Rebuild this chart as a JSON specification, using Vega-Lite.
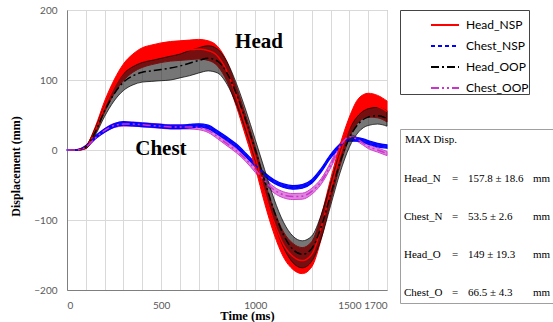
{
  "$schema": "https://vega.github.io/schema/vega-lite/v6.json",
  "width": 320,
  "height": 280,
  "autosize": {"type": "none"},
  "padding": {"left": 67, "top": 10, "right": 166, "bottom": 32},
  "background": "white",
  "config": {
    "view": {"stroke": "#a6a6a6", "strokeWidth": 1},
    "axis": {"domainColor": "#7f7f7f", "gridColor": "#d9d9d9", "gridWidth": 1, "tickSize": 0, "labelColor": "#595959", "labelFont": "Liberation Sans Narrow, Lato", "titleFont": "Liberation Serif", "titleFontWeight": "bold", "titleColor": "#000000"}
  },
  "datasets": {
    "curves": [
      {"s":"Head_NSP","t":0,"m":0,"lo":0,"hi":0},
      {"s":"Head_NSP","t":50,"m":0,"lo":-0.5,"hi":0.5},
      {"s":"Head_NSP","t":100,"m":4,"lo":2,"hi":6},
      {"s":"Head_NSP","t":150,"m":28,"lo":23,"hi":33},
      {"s":"Head_NSP","t":200,"m":62,"lo":54,"hi":70},
      {"s":"Head_NSP","t":250,"m":90,"lo":80,"hi":100},
      {"s":"Head_NSP","t":300,"m":111,"lo":99,"hi":123},
      {"s":"Head_NSP","t":350,"m":124,"lo":111,"hi":137},
      {"s":"Head_NSP","t":400,"m":132,"lo":118,"hi":146},
      {"s":"Head_NSP","t":450,"m":136,"lo":122,"hi":150},
      {"s":"Head_NSP","t":500,"m":139,"lo":125,"hi":153},
      {"s":"Head_NSP","t":550,"m":141,"lo":127,"hi":155},
      {"s":"Head_NSP","t":600,"m":142,"lo":128,"hi":156},
      {"s":"Head_NSP","t":650,"m":143,"lo":129,"hi":157},
      {"s":"Head_NSP","t":700,"m":144,"lo":130,"hi":158},
      {"s":"Head_NSP","t":750,"m":142,"lo":128,"hi":156},
      {"s":"Head_NSP","t":800,"m":134,"lo":120,"hi":148},
      {"s":"Head_NSP","t":850,"m":112,"lo":98,"hi":126},
      {"s":"Head_NSP","t":900,"m":76,"lo":62,"hi":90},
      {"s":"Head_NSP","t":950,"m":34,"lo":19,"hi":49},
      {"s":"Head_NSP","t":1000,"m":-10,"lo":-25,"hi":5},
      {"s":"Head_NSP","t":1050,"m":-60,"lo":-76,"hi":-44},
      {"s":"Head_NSP","t":1100,"m":-103,"lo":-120,"hi":-86},
      {"s":"Head_NSP","t":1150,"m":-135,"lo":-153,"hi":-117},
      {"s":"Head_NSP","t":1200,"m":-152,"lo":-170.6,"hi":-133.4},
      {"s":"Head_NSP","t":1250,"m":-158,"lo":-176.6,"hi":-139.4},
      {"s":"Head_NSP","t":1300,"m":-149,"lo":-167,"hi":-131},
      {"s":"Head_NSP","t":1350,"m":-111,"lo":-128,"hi":-94},
      {"s":"Head_NSP","t":1400,"m":-58,"lo":-74,"hi":-42},
      {"s":"Head_NSP","t":1450,"m":-8,"lo":-23,"hi":7},
      {"s":"Head_NSP","t":1500,"m":32,"lo":17,"hi":47},
      {"s":"Head_NSP","t":1550,"m":57,"lo":40,"hi":74},
      {"s":"Head_NSP","t":1600,"m":64,"lo":47,"hi":81},
      {"s":"Head_NSP","t":1650,"m":62,"lo":46,"hi":78},
      {"s":"Head_NSP","t":1700,"m":55,"lo":40,"hi":70},
      {"s":"Head_OOP","t":0,"m":0,"lo":0,"hi":0},
      {"s":"Head_OOP","t":50,"m":0,"lo":-0.5,"hi":0.5},
      {"s":"Head_OOP","t":100,"m":4,"lo":2,"hi":6},
      {"s":"Head_OOP","t":150,"m":26,"lo":21,"hi":31},
      {"s":"Head_OOP","t":200,"m":56,"lo":48,"hi":64},
      {"s":"Head_OOP","t":250,"m":80,"lo":70,"hi":90},
      {"s":"Head_OOP","t":300,"m":97,"lo":85,"hi":109},
      {"s":"Head_OOP","t":350,"m":106,"lo":93,"hi":119},
      {"s":"Head_OOP","t":400,"m":111,"lo":97,"hi":125},
      {"s":"Head_OOP","t":450,"m":113,"lo":98,"hi":128},
      {"s":"Head_OOP","t":500,"m":115,"lo":99,"hi":131},
      {"s":"Head_OOP","t":550,"m":117,"lo":100,"hi":134},
      {"s":"Head_OOP","t":600,"m":120,"lo":103,"hi":137},
      {"s":"Head_OOP","t":650,"m":124,"lo":106,"hi":142},
      {"s":"Head_OOP","t":700,"m":128,"lo":110,"hi":146},
      {"s":"Head_OOP","t":750,"m":131,"lo":113,"hi":149},
      {"s":"Head_OOP","t":800,"m":127,"lo":110,"hi":144},
      {"s":"Head_OOP","t":850,"m":110,"lo":94,"hi":126},
      {"s":"Head_OOP","t":900,"m":80,"lo":65,"hi":95},
      {"s":"Head_OOP","t":950,"m":42,"lo":27,"hi":57},
      {"s":"Head_OOP","t":1000,"m":0,"lo":-15,"hi":15},
      {"s":"Head_OOP","t":1050,"m":-44,"lo":-60,"hi":-28},
      {"s":"Head_OOP","t":1100,"m":-87,"lo":-104,"hi":-70},
      {"s":"Head_OOP","t":1150,"m":-121,"lo":-139,"hi":-103},
      {"s":"Head_OOP","t":1200,"m":-142,"lo":-161,"hi":-123},
      {"s":"Head_OOP","t":1250,"m":-149,"lo":-168.3,"hi":-129.7},
      {"s":"Head_OOP","t":1300,"m":-141,"lo":-159,"hi":-123},
      {"s":"Head_OOP","t":1350,"m":-110,"lo":-127,"hi":-93},
      {"s":"Head_OOP","t":1400,"m":-64,"lo":-80,"hi":-48},
      {"s":"Head_OOP","t":1450,"m":-18,"lo":-33,"hi":-3},
      {"s":"Head_OOP","t":1500,"m":17,"lo":4,"hi":30},
      {"s":"Head_OOP","t":1550,"m":38,"lo":26,"hi":50},
      {"s":"Head_OOP","t":1600,"m":47,"lo":35,"hi":59},
      {"s":"Head_OOP","t":1650,"m":49,"lo":37,"hi":61},
      {"s":"Head_OOP","t":1700,"m":45,"lo":34,"hi":56},
      {"s":"Chest_NSP","t":0,"m":0,"lo":-0.3,"hi":0.3},
      {"s":"Chest_NSP","t":50,"m":0,"lo":-0.5,"hi":0.5},
      {"s":"Chest_NSP","t":100,"m":5,"lo":3.5,"hi":6.5},
      {"s":"Chest_NSP","t":150,"m":18,"lo":16,"hi":20},
      {"s":"Chest_NSP","t":200,"m":28,"lo":25.5,"hi":30.5},
      {"s":"Chest_NSP","t":250,"m":35,"lo":32.5,"hi":37.5},
      {"s":"Chest_NSP","t":300,"m":38,"lo":35.5,"hi":40.5},
      {"s":"Chest_NSP","t":350,"m":37,"lo":34.5,"hi":39.5},
      {"s":"Chest_NSP","t":400,"m":36,"lo":33.5,"hi":38.5},
      {"s":"Chest_NSP","t":450,"m":35,"lo":32.5,"hi":37.5},
      {"s":"Chest_NSP","t":500,"m":34,"lo":31.5,"hi":36.5},
      {"s":"Chest_NSP","t":550,"m":33,"lo":30.5,"hi":35.5},
      {"s":"Chest_NSP","t":600,"m":33,"lo":30.5,"hi":35.5},
      {"s":"Chest_NSP","t":650,"m":34,"lo":31.5,"hi":36.5},
      {"s":"Chest_NSP","t":700,"m":35,"lo":32.5,"hi":37.5},
      {"s":"Chest_NSP","t":750,"m":33,"lo":30.5,"hi":35.5},
      {"s":"Chest_NSP","t":800,"m":25,"lo":22.5,"hi":27.5},
      {"s":"Chest_NSP","t":850,"m":16,"lo":13.5,"hi":18.5},
      {"s":"Chest_NSP","t":900,"m":6,"lo":3.5,"hi":8.5},
      {"s":"Chest_NSP","t":950,"m":-7,"lo":-9.5,"hi":-4.5},
      {"s":"Chest_NSP","t":1000,"m":-21,"lo":-23.5,"hi":-18.5},
      {"s":"Chest_NSP","t":1050,"m":-35,"lo":-37.5,"hi":-32.5},
      {"s":"Chest_NSP","t":1100,"m":-45,"lo":-47.6,"hi":-42.4},
      {"s":"Chest_NSP","t":1150,"m":-51,"lo":-53.6,"hi":-48.4},
      {"s":"Chest_NSP","t":1200,"m":-53.5,"lo":-56.1,"hi":-50.9},
      {"s":"Chest_NSP","t":1250,"m":-52,"lo":-54.6,"hi":-49.4},
      {"s":"Chest_NSP","t":1300,"m":-45,"lo":-47.6,"hi":-42.4},
      {"s":"Chest_NSP","t":1350,"m":-29,"lo":-31.5,"hi":-26.5},
      {"s":"Chest_NSP","t":1400,"m":-9,"lo":-11.5,"hi":-6.5},
      {"s":"Chest_NSP","t":1450,"m":6,"lo":3.5,"hi":8.5},
      {"s":"Chest_NSP","t":1500,"m":15,"lo":12.5,"hi":17.5},
      {"s":"Chest_NSP","t":1550,"m":15,"lo":12.5,"hi":17.5},
      {"s":"Chest_NSP","t":1600,"m":11,"lo":8.5,"hi":13.5},
      {"s":"Chest_NSP","t":1650,"m":7,"lo":4.5,"hi":9.5},
      {"s":"Chest_NSP","t":1700,"m":5,"lo":2.5,"hi":7.5},
      {"s":"Chest_OOP","t":0,"m":0,"lo":-0.3,"hi":0.3},
      {"s":"Chest_OOP","t":50,"m":0,"lo":-0.5,"hi":0.5},
      {"s":"Chest_OOP","t":100,"m":4,"lo":2.5,"hi":5.5},
      {"s":"Chest_OOP","t":150,"m":17,"lo":15,"hi":19},
      {"s":"Chest_OOP","t":200,"m":28,"lo":25.5,"hi":30.5},
      {"s":"Chest_OOP","t":250,"m":35,"lo":32,"hi":38},
      {"s":"Chest_OOP","t":300,"m":37,"lo":34,"hi":40},
      {"s":"Chest_OOP","t":350,"m":37,"lo":34,"hi":40},
      {"s":"Chest_OOP","t":400,"m":36,"lo":33,"hi":39},
      {"s":"Chest_OOP","t":450,"m":35,"lo":32,"hi":38},
      {"s":"Chest_OOP","t":500,"m":34,"lo":31,"hi":37},
      {"s":"Chest_OOP","t":550,"m":33,"lo":30,"hi":36},
      {"s":"Chest_OOP","t":600,"m":33,"lo":30,"hi":36},
      {"s":"Chest_OOP","t":650,"m":33,"lo":30,"hi":36},
      {"s":"Chest_OOP","t":700,"m":32,"lo":29,"hi":35},
      {"s":"Chest_OOP","t":750,"m":28,"lo":25,"hi":31},
      {"s":"Chest_OOP","t":800,"m":19,"lo":16,"hi":22},
      {"s":"Chest_OOP","t":850,"m":9,"lo":6,"hi":12},
      {"s":"Chest_OOP","t":900,"m":-1,"lo":-4,"hi":2},
      {"s":"Chest_OOP","t":950,"m":-13,"lo":-16.5,"hi":-9.5},
      {"s":"Chest_OOP","t":1000,"m":-28,"lo":-32,"hi":-24},
      {"s":"Chest_OOP","t":1050,"m":-44,"lo":-48,"hi":-40},
      {"s":"Chest_OOP","t":1100,"m":-57,"lo":-61.3,"hi":-52.7},
      {"s":"Chest_OOP","t":1150,"m":-64,"lo":-68.3,"hi":-59.7},
      {"s":"Chest_OOP","t":1200,"m":-66.5,"lo":-70.8,"hi":-62.2},
      {"s":"Chest_OOP","t":1250,"m":-66,"lo":-70.3,"hi":-61.7},
      {"s":"Chest_OOP","t":1300,"m":-59,"lo":-63.3,"hi":-54.7},
      {"s":"Chest_OOP","t":1350,"m":-45,"lo":-49,"hi":-41},
      {"s":"Chest_OOP","t":1400,"m":-22,"lo":-26,"hi":-18},
      {"s":"Chest_OOP","t":1450,"m":5,"lo":1.5,"hi":8.5},
      {"s":"Chest_OOP","t":1500,"m":19,"lo":16,"hi":22},
      {"s":"Chest_OOP","t":1550,"m":14,"lo":11,"hi":17},
      {"s":"Chest_OOP","t":1600,"m":5,"lo":2,"hi":8},
      {"s":"Chest_OOP","t":1650,"m":0,"lo":-3,"hi":3},
      {"s":"Chest_OOP","t":1700,"m":-5,"lo":-8,"hi":-2}
    ],
    "maxdisp": [
      {"cell": "Head_N"}, {"cell": "=1"}, {"cell": "157.8 ± 18.6"}, {"cell": "mm1"},
      {"cell": "Chest_N"}, {"cell": "=2"}, {"cell": "53.5 ± 2.6"}, {"cell": "mm2"},
      {"cell": "Head_O"}, {"cell": "=3"}, {"cell": "149 ± 19.3"}, {"cell": "mm3"},
      {"cell": "Chest_O"}, {"cell": "=4"}, {"cell": "66.5 ± 4.3"}, {"cell": "mm4"}
    ]
  },
  "data": {"name": "curves"},
  "encoding": {
    "x": {"field": "t", "type": "quantitative", "scale": {"domain": [0, 1700], "nice": false},
      "axis": {"values": [0,100,200,300,400,500,600,700,800,900,1000,1100,1200,1300,1400,1500,1600,1700], "labelExpr": "indexof([0,500,1000,1500,1700], datum.value) >= 0 ? datum.label : ''", "format": "d", "labelOverlap": false, "labelPadding": 10, "labelFontSize": 10, "labelBaseline": "top", "title": "Time (ms)", "titleFontSize": 12.5, "titleX": 180, "titleY": 29, "titleBaseline": "alphabetic", "titleAnchor": "middle",
        "encode": {"labels": {"update": {"dx": {"signal": "datum.value == 0 ? -2 : (datum.value == 1700 ? -12 : -9)"}}}}}}
  },
  "layer": [
    {
      "transform": [{"filter": "datum.s == 'Chest_OOP'"}],
      "mark": {"type": "area", "interpolate": "monotone", "fill": "#dd77dd", "fillOpacity": 0.9, "stroke": "#cc44cc", "strokeWidth": 1},
      "encoding": {
        "y": {"field": "lo", "type": "quantitative", "scale": {"domain": [-200, 200], "nice": false},
          "axis": {"values": [-200,-150,-100,-50,0,50,100,150,200], "labelOverlap": false, "labelPadding": 10, "labelFontSize": 10, "title": "Displacement (mm)", "titleFontSize": 12, "titleX": -52, "titleY": 156, "titleAngle": -90, "titleBaseline": "middle", "titleAnchor": "middle"}},
        "y2": {"field": "hi"}
      }
    },
    {
      "transform": [{"filter": "datum.s == 'Chest_NSP'"}],
      "mark": {"type": "area", "interpolate": "monotone", "fill": "#1010ff", "stroke": "#0000ff", "strokeWidth": 1.2},
      "encoding": {
        "y": {"field": "lo", "type": "quantitative", "scale": {"domain": [-200, 200], "nice": false},
          "axis": {"values": [-200,-150,-100,-50,0,50,100,150,200], "labelOverlap": false, "labelPadding": 10, "labelFontSize": 10, "title": "Displacement (mm)", "titleFontSize": 12, "titleX": -52, "titleY": 156, "titleAngle": -90, "titleBaseline": "middle", "titleAnchor": "middle"}},
        "y2": {"field": "hi"}
      }
    },
    {
      "transform": [{"filter": "datum.s == 'Head_NSP'"}],
      "mark": {"type": "area", "interpolate": "monotone", "fill": "#ff0000", "stroke": "#ff0000", "strokeWidth": 1},
      "encoding": {
        "y": {"field": "lo", "type": "quantitative", "scale": {"domain": [-200, 200], "nice": false},
          "axis": {"values": [-200,-150,-100,-50,0,50,100,150,200], "labelOverlap": false, "labelPadding": 10, "labelFontSize": 10, "title": "Displacement (mm)", "titleFontSize": 12, "titleX": -52, "titleY": 156, "titleAngle": -90, "titleBaseline": "middle", "titleAnchor": "middle"}},
        "y2": {"field": "hi"}
      }
    },
    {
      "transform": [{"filter": "datum.s == 'Head_OOP'"}],
      "mark": {"type": "area", "interpolate": "monotone", "fill": "#1a1a1a", "fillOpacity": 0.6, "stroke": "#000000", "strokeOpacity": 0.7, "strokeWidth": 1},
      "encoding": {
        "y": {"field": "lo", "type": "quantitative", "scale": {"domain": [-200, 200], "nice": false},
          "axis": {"values": [-200,-150,-100,-50,0,50,100,150,200], "labelOverlap": false, "labelPadding": 10, "labelFontSize": 10, "title": "Displacement (mm)", "titleFontSize": 12, "titleX": -52, "titleY": 156, "titleAngle": -90, "titleBaseline": "middle", "titleAnchor": "middle"}},
        "y2": {"field": "hi"}
      }
    },
    {
      "mark": {"type": "line", "interpolate": "monotone", "strokeWidth": 1.5},
      "encoding": {
        "y": {"field": "m", "type": "quantitative", "scale": {"domain": [-200, 200], "nice": false},
          "axis": {"values": [-200,-150,-100,-50,0,50,100,150,200], "labelOverlap": false, "labelPadding": 10, "labelFontSize": 10, "title": "Displacement (mm)", "titleFontSize": 12, "titleX": -52, "titleY": 156, "titleAngle": -90, "titleBaseline": "middle", "titleAnchor": "middle"}},
        "color": {"field": "s", "type": "nominal",
          "scale": {"domain": ["Head_NSP", "Chest_NSP", "Head_OOP", "Chest_OOP"], "range": ["#ff0000", "#0000ff", "#000000", "#cc33cc"]},
          "legend": {"orient": "none", "legendX": 333, "legendY": 0, "title": null, "strokeColor": "#444444", "fillColor": "#ffffff", "padding": 0, "symbolType": "stroke", "symbolSize": 784, "symbolStrokeWidth": 2, "symbolOffset": 30, "labelOffset": 6, "labelFont": "Lato", "labelFontSize": 12, "labelColor": "#000000", "rowPadding": 0, "labelExpr": "datum.label + '             '"}},
        "strokeDash": {"field": "s", "type": "nominal",
          "scale": {"domain": ["Head_NSP", "Chest_NSP", "Head_OOP", "Chest_OOP"], "range": [[1, 0], [4, 3], [8, 3, 2, 3], [8, 3, 2, 3, 2, 3]]}}
      }
    },
    {
      "transform": [{"filter": "datum.s == 'Head_NSP' && datum.t == 0"}],
      "mark": {"type": "text", "text": "Head", "font": "Liberation Serif", "fontWeight": "bold", "fontSize": 21, "align": "center", "baseline": "alphabetic", "color": "#000000"},
      "encoding": {"x": {"datum": 1020}, "y": {"datum": 146}}
    },
    {
      "transform": [{"filter": "datum.s == 'Head_NSP' && datum.t == 0"}],
      "mark": {"type": "text", "text": "Chest", "font": "Liberation Serif", "fontWeight": "bold", "fontSize": 21, "align": "center", "baseline": "alphabetic", "color": "#000000"},
      "encoding": {"x": {"datum": 499}, "y": {"datum": -7}}
    },
    {
      "data": {"name": "maxdisp"},
      "mark": {"type": "point", "opacity": 0},
      "encoding": {
        "x": {"datum": 0},
        "y": {"datum": 0},
        "shape": {"field": "cell", "type": "nominal",
          "scale": {"domain": ["Head_N", "=1", "157.8 ± 18.6", "mm1", "Chest_N", "=2", "53.5 ± 2.6", "mm2", "Head_O", "=3", "149 ± 19.3", "mm3", "Chest_O", "=4", "66.5 ± 4.3", "mm4"]},
          "legend": {"orient": "none", "legendX": 333, "legendY": 119, "title": "MAX Disp.", "columns": 4, "direction": "horizontal", "gridAlign": "each", "columnPadding": 9, "rowPadding": 26, "symbolSize": 1, "symbolOpacity": 0, "symbolStrokeWidth": 0, "labelOffset": -12, "labelFont": "Liberation Serif", "labelFontSize": 11, "labelColor": "#000000", "labelLimit": 200, "titleFont": "Liberation Serif", "titleFontWeight": "normal", "titleFontSize": 11, "titleColor": "#000000", "titlePadding": 28, "padding": 5, "strokeColor": "#a0a0a0", "fillColor": "#ffffff",
            "labelExpr": "slice(datum.label, 0, 1) == '=' ? '=' : (slice(datum.label, 0, 2) == 'mm' ? 'mm' : datum.label)"}}
      }
    }
  ]
}
